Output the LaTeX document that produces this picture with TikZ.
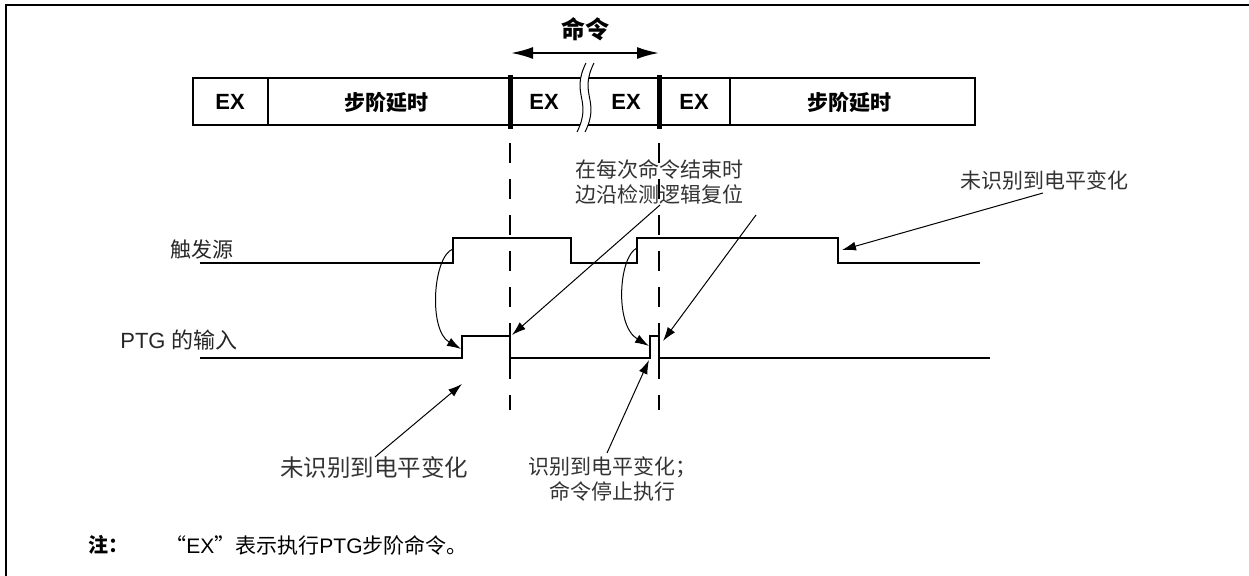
\documentclass[tikz,border=0pt]{standalone}
\usepackage{fontspec}
\setmainfont{Liberation Sans}
\newfontfamily\cjk{Noto Sans CJK SC}
\usetikzlibrary{arrows.meta}
\begin{document}
\begin{tikzpicture}[x=0.5pt,y=-0.5pt,
  sig/.style={line width=1pt, line join=miter},
  frameline/.style={line width=1pt},
  ann/.style={line width=0.5pt,-{Latex[length=7pt,width=4.5pt]}},
  dashv/.style={line width=1pt, dash pattern=on 10pt off 8pt},
  lbl/.style={inner sep=0pt, align=center, font=\fontsize{10.5pt}{12.5pt}\selectfont\cjk, text=black!80},
  exlbl/.style={inner sep=0pt, font=\fontsize{11pt}{13pt}\selectfont\bfseries},
  cjkbold/.style={inner sep=0pt, font=\fontsize{10.5pt}{12pt}\selectfont\cjk\bfseries},
  siglbl/.style={inner sep=0pt, font=\fontsize{10.5pt}{12pt}\selectfont, text=black!85}]
\useasboundingbox (0,0) rectangle (1249,576);
% outer frame
\draw[frameline] (6,580) -- (6,5) -- (1255,5);
% command arrow and label
\node[inner sep=0pt, font=\fontsize{12pt}{14pt}\selectfont\cjk\bfseries] (cmd) at (585,29) {命令};
\coordinate (cmdL) at (511,53);
\coordinate (cmdR) at (659,53);
\draw[line width=1pt, {Latex[length=11pt,width=6pt]}-{Latex[length=11pt,width=6pt]}] (cmdL) -- (cmdR);
% step bar
\draw[frameline] (193,78) rectangle (975,125);
\draw[frameline] (268,78) -- (268,125);
\draw[frameline] (730,78) -- (730,125);
\draw[line width=2.5pt] (510,75) -- (510,129);
\draw[line width=2.5pt] (659,75) -- (659,129);
% break marks
\fill[white] (586,63) .. controls (570,95) and (593,100) .. (577,132) -- (585,132) .. controls (601,100) and (578,95) .. (594,63) -- cycle;
\draw[line width=0.5pt] (586,63) .. controls (570,95) and (593,100) .. (577,132);
\draw[line width=0.5pt] (594,63) .. controls (578,95) and (601,100) .. (585,132);
% cell labels
\node[exlbl] (ex1) at (230,102) {EX};
\node[cjkbold] (d1) at (386,102) {步阶延时};
\node[exlbl] (ex2) at (544,102) {EX};
\node[exlbl] (ex3) at (626,102) {EX};
\node[exlbl] (ex4) at (694,102) {EX};
\node[cjkbold] (d2) at (849,102) {步阶延时};
% dashed markers
\draw[dashv] (510,143) -- (510,410);
\draw[dashv] (659,143) -- (659,410);
% signal labels
\node[siglbl] (trg) at (202,250) {\cjk 触发源};
\node[siglbl, font=\fontsize{11pt}{13pt}\selectfont] (ptg) at (179,340) {PTG {\cjk 的输入}};
% signals
\draw[sig] (200,263) -- (453,263) -- (453,238) -- (571,238) -- (571,263) -- (637,263) -- (637,238) -- (838,238) -- (838,263) -- (980,263);
\draw[sig] (200,358) -- (462,358) -- (462,336) -- (510,336) -- (510,358) -- (650,358) -- (650,336) -- (659,336) -- (659,358) -- (990,358);
% curved propagation arrows
\coordinate (tr1) at (453,249);
\coordinate (pr1) at (461,349);
\coordinate (tr2) at (637,248);
\coordinate (pr2) at (649,346);
\draw[ann] (tr1) .. controls (433,256) and (428,330) .. (pr1);
\draw[ann] (tr2) .. controls (619,256) and (614,325) .. (pr2);
% annotations
\node[lbl] (reset) at (659,182) {在每次命令结束时\\边沿检测逻辑复位};
\coordinate (rs1) at (660,205);
\coordinate (rs2) at (756,215);
\coordinate (fall1) at (512,335);
\coordinate (fall2) at (663,341);
\draw[ann] (rs1) -- (fall1);
\draw[ann] (rs2) -- (fall2);
\node[lbl] (nr1) at (1044,180) {未识别到电平变化};
\coordinate (nr1s) at (1043,193);
\coordinate (nr1e) at (842,250);
\draw[ann] (nr1s) -- (nr1e);
\node[lbl, font=\fontsize{11.75pt}{14pt}\selectfont\cjk] (nr2) at (374,468) {未识别到电平变化};
\coordinate (nr2s) at (375,457);
\coordinate (nr2e) at (462,384);
\draw[ann] (nr2s) -- (nr2e);
\node[lbl] (rec) at (612,479) {识别到电平变化；\\命令停止执行};
\coordinate (recs) at (607,453);
\coordinate (rece) at (649,360);
\draw[ann] (recs) -- (rece);
% note
\node[inner sep=0pt, font=\fontsize{10pt}{12pt}\selectfont\cjk\bfseries] (notek) at (108,545) {注：};
\node[inner sep=0pt, anchor=west, font=\fontsize{10.5pt}{12pt}\selectfont] (note) at (165,545) {{\cjk “}EX{\cjk ”表示执行}PTG{\cjk 步阶命令。}};
\end{tikzpicture}
\end{document}
